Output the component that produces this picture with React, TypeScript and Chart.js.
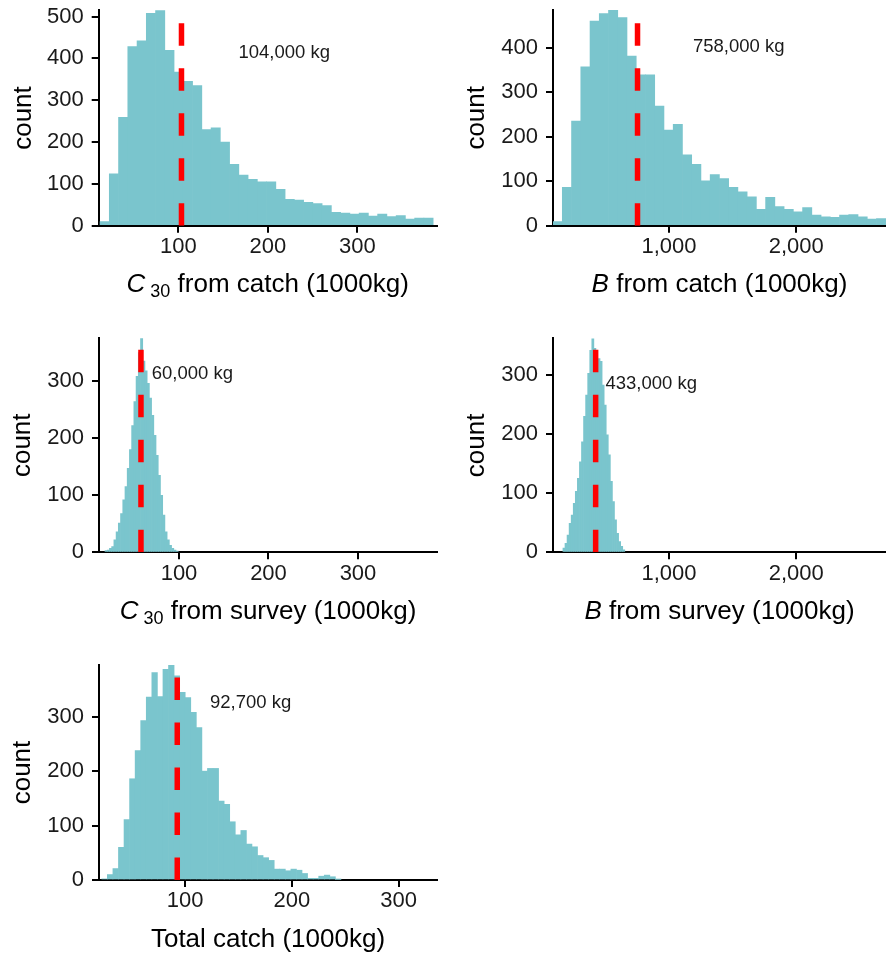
import React, { useEffect, useRef } from 'react';
import { Chart, registerables } from 'chart.js';

Chart.register(...registerables);

const FONT = '"Liberation Sans", Arial, Helvetica, sans-serif';
const FILL = '#7AC5CD';
const RED = '#FF0000';
const TEXT = '#1a1a1a';

// ---------- data ----------
// C30 from catch (1000kg)
const c30CatchStart = 12.5;
const c30CatchWidth = 10.34;
const c30CatchCounts = [10, 124, 259, 428, 442, 508, 515, 419, 367, 345, 335, 230, 234, 200, 147, 121, 111, 105, 105, 87, 63, 61, 56, 53, 48, 32, 30, 28, 30, 23, 28, 22, 24, 16, 18, 18];
const c30CatchMean = 103.5;
const c30CatchLabel = '104,000 kg';

// B from catch (1000kg)
const bCatchStart = 89.5;
const bCatchWidth = 72.6;
const bCatchCounts = [9, 86, 235, 357, 460, 477, 485, 468, 381, 339, 339, 269, 215, 228, 159, 138, 101, 115, 106, 86, 76, 65, 37, 64, 43, 37, 31, 41, 24, 20, 19, 24, 25, 20, 15, 16];
const bCatchMean = 753;
const bCatchLabel = '758,000 kg';

// C30 from survey (1000kg)
const c30SurveyStart = 17.3;
const c30SurveyWidth = 2.48;
const c30SurveyCounts = [3, 4, 7, 10, 22, 36, 51, 68, 92, 115, 147, 180, 222, 264, 308, 350, 375, 335, 318, 296, 270, 240, 205, 170, 135, 100, 65, 36, 22, 12, 7, 4, 2];
const c30SurveyMean = 57.5;
const c30SurveyLabel = '60,000 kg';

// B from survey (1000kg)
const bSurveyStart = 167;
const bSurveyWidth = 16.2;
const bSurveyCounts = [7, 15, 29, 49, 63, 83, 103, 125, 153, 187, 230, 266, 303, 342, 362, 345, 325, 328, 323, 283, 249, 199, 165, 120, 86, 55, 32, 18, 10, 4];
const bSurveyMean = 424;
const bSurveyLabel = '433,000 kg';

// Total catch (1000kg)
const totalStart = 22.0;
const totalWidth = 5.21;
const totalCounts = [2, 10, 21, 60, 111, 186, 238, 293, 336, 381, 337, 387, 395, 375, 345, 335, 308, 280, 200, 205, 205, 145, 139, 107, 83, 91, 66, 61, 45, 41, 36, 20, 20, 17, 20, 18, 12, 3, 3, 7, 9, 6, 1];
const totalMean = 92.7;
const totalLabel = '92,700 kg';

// tick labels
const xTicksC30 = [100, 200, 300];
const xTicksB = [1000, 2000];
const xTicksTotal = [100, 200, 300];
const yTicks500 = [0, 100, 200, 300, 400, 500];
const yTicks400 = [0, 100, 200, 300, 400];
const yTicks300 = [0, 100, 200, 300];

type Part = { text: string; italic?: boolean; sub?: boolean };

interface PanelCfg {
  box: { left: number; top: number; width: number; height: number };
  area: { left: number; top: number; right: number; bottom: number };
  start: number;
  binWidth: number;
  counts: number[];
  xMin: number;
  xMax: number;
  yMax: number;
  xTicks: number[];
  yTicks: number[];
  mean: number;
  label: string;
  labelX: number;
  labelY: number;
  title: Part[];
  yTitlePad: number;
}

const panels: PanelCfg[] = [
  {
    box: { left: 0, top: 0, width: 443, height: 318 },
    area: { left: 98.7, top: 10.3, right: 436.7, bottom: 225.7 },
    start: c30CatchStart, binWidth: c30CatchWidth, counts: c30CatchCounts,
    xMin: 11, xMax: 388.7, yMax: 515, xTicks: xTicksC30, yTicks: yTicks500,
    mean: c30CatchMean, label: c30CatchLabel, labelX: 218.3, labelY: 413,
    title: [{ text: 'C', italic: true }, { text: ' 30', sub: true }, { text: ' from catch (1000kg)' }],
    yTitlePad: 8,
  },
  {
    box: { left: 443, top: 0, width: 443, height: 318 },
    area: { left: 110, top: 9.9, right: 443, bottom: 225.7 },
    start: bCatchStart, binWidth: bCatchWidth, counts: bCatchCounts,
    xMin: 89, xMax: 2705, yMax: 485, xTicks: xTicksB, yTicks: yTicks400,
    mean: bCatchMean, label: bCatchLabel, labelX: 1548, labelY: 401,
    title: [{ text: 'B', italic: true }, { text: ' from catch (1000kg)' }],
    yTitlePad: 18.7,
  },
  {
    box: { left: 0, top: 318, width: 443, height: 327 },
    area: { left: 99, top: 20.2, right: 437, bottom: 234.3 },
    start: c30SurveyStart, binWidth: c30SurveyWidth, counts: c30SurveyCounts,
    xMin: 10.6, xMax: 388.3, yMax: 375, xTicks: xTicksC30, yTicks: yTicks300,
    mean: c30SurveyMean, label: c30SurveyLabel, labelX: 115, labelY: 312,
    title: [{ text: 'C', italic: true }, { text: ' 30', sub: true }, { text: ' from survey (1000kg)' }],
    yTitlePad: 7.5,
  },
  {
    box: { left: 443, top: 318, width: 443, height: 327 },
    area: { left: 110, top: 20.4, right: 443, bottom: 234.3 },
    start: bSurveyStart, binWidth: bSurveyWidth, counts: bSurveyCounts,
    xMin: 89, xMax: 2705, yMax: 362, xTicks: xTicksB, yTicks: yTicks300,
    mean: bSurveyMean, label: bSurveyLabel, labelX: 861, labelY: 285,
    title: [{ text: 'B', italic: true }, { text: ' from survey (1000kg)' }],
    yTitlePad: 18.7,
  },
  {
    box: { left: 0, top: 645, width: 443, height: 314 },
    area: { left: 99, top: 20, right: 437, bottom: 235 },
    start: totalStart, binWidth: totalWidth, counts: totalCounts,
    xMin: 19.4, xMax: 336, yMax: 395, xTicks: xTicksTotal, yTicks: yTicks300,
    mean: totalMean, label: totalLabel, labelX: 161.4, labelY: 325,
    title: [{ text: 'Total catch (1000kg)' }],
    yTitlePad: 7.5,
  },
];

function makeChart(canvas: HTMLCanvasElement, p: PanelCfg) {
  const bars = p.counts.map((c, i) => ({ x: p.start + p.binWidth * (i + 0.5), y: c }));

  const titlePlugin = {
    id: 'xTitleRich',
    afterDraw(chart: any) {
      const { ctx, chartArea } = chart;
      const size = 26;
      const subSize = 18;
      const fonts = p.title.map((t) => `${t.italic ? 'italic ' : ''}${t.sub ? subSize : size}px ${FONT}`);
      ctx.save();
      const widths = p.title.map((t, i) => {
        ctx.font = fonts[i];
        return ctx.measureText(t.text).width;
      });
      const total = widths.reduce((a, b) => a + b, 0);
      let x = (chartArea.left + chartArea.right) / 2 - total / 2;
      const y = chartArea.bottom + 66.5;
      ctx.fillStyle = '#000';
      ctx.textAlign = 'left';
      ctx.textBaseline = 'alphabetic';
      p.title.forEach((t, i) => {
        ctx.font = fonts[i];
        ctx.fillText(t.text, x, y + (t.sub ? 5 : 0));
        x += widths[i];
      });
      ctx.restore();
    },
  };

  const labelPlugin = {
    id: 'meanLabel',
    afterDatasetsDraw(chart: any) {
      const { ctx } = chart;
      const xs = chart.scales.x;
      const ys = chart.scales.y;
      ctx.save();
      ctx.font = `18.5px ${FONT}`;
      ctx.fillStyle = TEXT;
      ctx.textAlign = 'center';
      ctx.textBaseline = 'middle';
      ctx.fillText(p.label, xs.getPixelForValue(p.labelX), ys.getPixelForValue(p.labelY));
      ctx.restore();
    },
  };

  const grid = {
    display: true,
    drawOnChartArea: false,
    drawTicks: true,
    tickLength: 7,
    color: '#000',
    lineWidth: 2,
    offset: false,
  };

  return new Chart(canvas, {
    type: 'bar',
    data: {
      datasets: [
        {
          type: 'bar',
          data: bars,
          backgroundColor: FILL,
          borderWidth: 0,
          barThickness: 'flex',
          barPercentage: 1,
          categoryPercentage: 1,
          order: 2,
        } as any,
        {
          type: 'line',
          data: [
            { x: p.mean, y: 0 },
            { x: p.mean, y: p.yMax },
          ],
          borderColor: RED,
          borderWidth: 5.5,
          borderDash: [22.5, 22.5],
          pointRadius: 0,
          fill: false,
          order: 1,
        } as any,
      ],
    },
    options: {
      animation: false,
      responsive: false,
      maintainAspectRatio: false,
      events: [],
      layout: {
        padding: { left: 0, top: p.area.top, right: p.box.width - p.area.right, bottom: 0 },
      },
      plugins: {
        legend: { display: false },
        tooltip: { enabled: false },
      },
      scales: {
        x: {
          type: 'linear',
          min: p.xMin,
          max: p.xMax,
          offset: false,
          grid,
          border: { display: true, color: '#000', width: 2 },
          ticks: {
            font: { family: FONT, size: 22 },
            color: TEXT,
            padding: 1,
            autoSkip: false,
            maxRotation: 0,
            callback: (v: any) => Number(v).toLocaleString('en-US'),
          },
          afterBuildTicks: (s: any) => {
            s.ticks = p.xTicks.map((v) => ({ value: v }));
          },
          afterFit: (s: any) => {
            s.height = p.box.height - p.area.bottom;
            s.paddingLeft = 0;
            s.paddingRight = 0;
          },
        },
        y: {
          type: 'linear',
          min: 0,
          max: p.yMax,
          grid,
          border: { display: true, color: '#000', width: 2 },
          ticks: {
            font: { family: FONT, size: 22 },
            color: TEXT,
            padding: 8,
            autoSkip: false,
            callback: (v: any) => String(v),
          },
          title: {
            display: true,
            text: 'count',
            color: '#000',
            font: { family: FONT, size: 26 },
            padding: { top: p.yTitlePad, bottom: 0 },
          },
          afterBuildTicks: (s: any) => {
            s.ticks = p.yTicks.map((v) => ({ value: v }));
          },
          afterFit: (s: any) => {
            s.width = p.area.left;
            s.paddingTop = 0;
            s.paddingBottom = 0;
          },
        },
      },
    } as any,
    plugins: [titlePlugin, labelPlugin],
  });
}

function Panel({ cfg }: { cfg: PanelCfg }) {
  const ref = useRef<HTMLCanvasElement | null>(null);
  useEffect(() => {
    if (!ref.current) return;
    const chart = makeChart(ref.current, cfg);
    return () => chart.destroy();
  }, [cfg]);
  return (
    <div
      style={{
        position: 'absolute',
        left: cfg.box.left,
        top: cfg.box.top,
        width: cfg.box.width,
        height: cfg.box.height,
      }}
    >
      <canvas
        ref={ref}
        width={cfg.box.width}
        height={cfg.box.height}
        style={{ display: 'block', width: cfg.box.width, height: cfg.box.height }}
      />
    </div>
  );
}

export default function App() {
  return (
    <div
      style={{
        position: 'absolute',
        left: 0,
        top: 0,
        width: 886,
        height: 959,
        background: '#ffffff',
        overflow: 'hidden',
      }}
    >
      {panels.map((p, i) => (
        <Panel key={i} cfg={p} />
      ))}
    </div>
  );
}
